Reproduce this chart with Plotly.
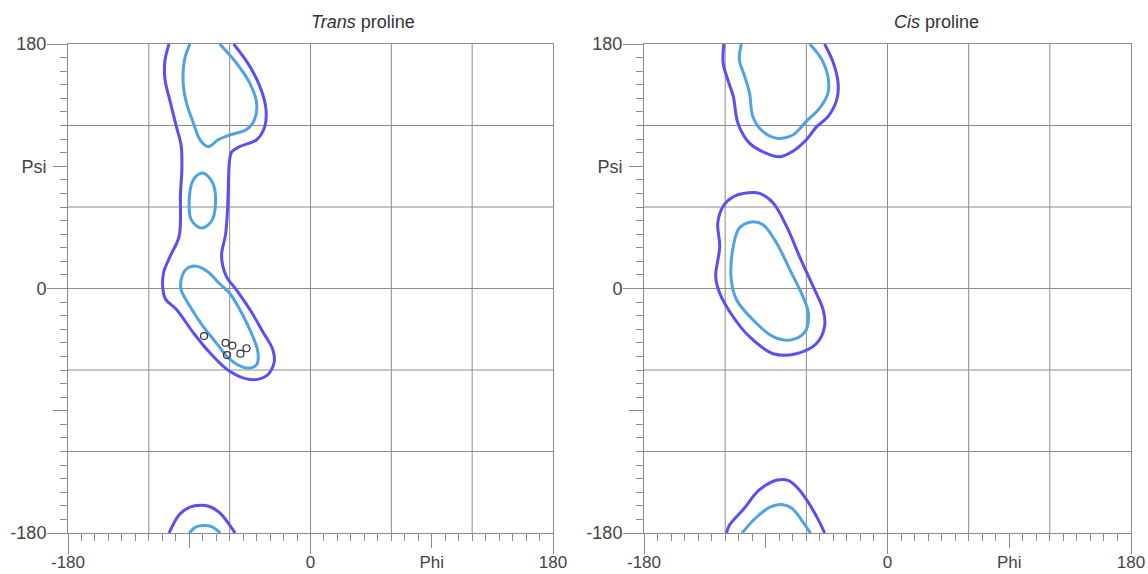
import plotly.graph_objects as go

# ---------------- data (phi, psi in degrees) ----------------
# Trans proline contours
trans_outer_phi = [-105, -108, -108, -104, -99.5, -96, -95.5, -96.5, -97.5, -104, -109, -109.5, -107.5, -99.5, -87,
                   -75, -60, -45, -33, -27, -28, -35, -45, -55, -62.5, -66, -63, -61.5, -60, -58.5, -52.5, -40, -34,
                   -33, -36.5, -45, -57]
trans_outer_psi = [180, 168, 154, 137, 119, 105, 87.5, 70.5, 38.5, 24, 12, -1, -8, -15.5, -32.5,
                   -47, -61, -67, -64.5, -54.5, -45, -32.5, -15.5, -1, 9, 24, 40, 60.5, 95, 100.5, 104.5, 109.5, 119,
                   131.5, 146, 163.5, 180]
trans_outer_bottom_phi = [-105, -97, -89.5, -82, -75, -67.5, -56]
trans_outer_bottom_psi = [-180, -166, -161, -159.5, -160.5, -165, -180]

trans_inner_top_phi = [-89.5, -93.5, -94.5, -92, -87, -82, -76, -68.5, -60, -47.5, -41.5, -40, -45, -55, -67.5]
trans_inner_top_psi = [180, 168.5, 151, 136.5, 122, 109.5, 104.5, 109.5, 113, 117, 124.5, 136.5, 151, 166, 180]
trans_inner_mid_phi = [-80, -72.5, -70.5, -73.5, -81, -88.5, -90, -87, -80]
trans_inner_mid_psi = [85, 77.5, 63, 49.5, 44.5, 50.5, 65.5, 80, 85]
trans_inner_low_phi = [-96, -96, -92.5, -86, -76.5, -67.5, -60, -52.5, -43, -39, -40, -47.5, -60, -70, -80, -89.5, -96]
trans_inner_low_psi = [-1, 6.5, 14, 16.5, 12.5, 3.5, -3.5, -15.5, -35, -47, -56, -58.5, -52, -40, -27.5, -13, -1]
trans_inner_bottom_phi = [-90, -85, -79, -73, -67]
trans_inner_bottom_psi = [-180, -175.5, -174.5, -175.5, -180]

# Observed residues (trans)
trans_pts_phi = [-79, -63, -58, -62, -52, -47.5]
trans_pts_psi = [-35, -40, -42, -49, -48, -44]

# Cis proline contours
cis_outer_top_phi = [-121, -121.5, -118, -114, -110.5, -102, -89.5, -79.5, -70, -60, -52.5, -44, -37.5, -36.5, -40, -46.5]
cis_outer_top_psi = [180, 166, 153.5, 141.5, 121.5, 107, 99.5, 97, 101, 109.5, 119, 126.5, 139, 151, 166, 180]
cis_inner_top_phi = [-108, -109.5, -105.5, -102, -99.5, -92, -81, -70, -60, -50, -44, -44, -48.5, -57.5]
cis_inner_top_psi = [180, 168.5, 156, 144, 126.5, 115.5, 110.5, 113, 123, 133, 144, 156, 168.5, 180]
cis_outer_mid_phi = [-103, -114, -121.5, -125.5, -124, -127, -124, -114, -102, -84.5, -67.5, -52.5, -46.5, -47.5, -55,
                     -65, -74.5, -84.5, -94.5, -103]
cis_outer_mid_psi = [70.5, 67.5, 60.5, 48, 31, 8.5, -3.5, -21, -35.5, -48, -48, -40.5, -28, -16, 1.5,
                     23.5, 45.5, 63, 70, 70.5]
cis_inner_mid_phi = [-100.5, -109.5, -114, -115.5, -111.5, -99.5, -84.5, -72, -61, -58.5, -62.5, -72, -82, -92, -100.5]
cis_inner_mid_psi = [49, 44.5, 31, 6.5, -8.5, -23, -35.5, -38, -32, -18.5, -6, 13.5, 33.5, 47, 49]
cis_outer_bottom_phi = [-119, -117, -106, -95, -81.5, -73, -65, -59.5, -51, -46.5]
cis_outer_bottom_psi = [-180, -174.5, -162, -148.5, -141, -141.5, -148.5, -156, -170.5, -180]
cis_inner_bottom_phi = [-107.5, -98, -87, -78.5, -70.5, -63.5, -57]
cis_inner_bottom_psi = [-180, -169.5, -161, -159, -162, -170.5, -180]

# axis ticks
major_ticks = [-180, -90, 0, 90, 180]
x_ticktext = ["-180", "", "0", "Phi", "180"]
y_ticktext = ["-180", "", "0", "Psi", "180"]
long_ticks = [-180, 0, 180]
grid_vals = [-120, -60, 0, 60, 120]
titles = ["<i>Trans</i> proline", "<i>Cis</i> proline"]

# ---------------- styling ----------------
OUTER = "#5a4ff0"
INNER = "#4fa3e3"
GRID = "#8c8c8c"
TXT = "#444444"
FONT = "Liberation Sans, Arial, sans-serif"
LW = 3

fig = go.Figure()


def add_line(px, py, color, xa, ya):
    fig.add_trace(go.Scatter(x=px, y=py, mode="lines", line=dict(color=color, width=LW, shape="spline", smoothing=1.0),
                             xaxis=xa, yaxis=ya, showlegend=False, hoverinfo="skip"))


# Trans (left)
add_line(trans_outer_phi, trans_outer_psi, OUTER, "x", "y")
add_line(trans_outer_bottom_phi, trans_outer_bottom_psi, OUTER, "x", "y")
add_line(trans_inner_top_phi, trans_inner_top_psi, INNER, "x", "y")
add_line(trans_inner_mid_phi, trans_inner_mid_psi, INNER, "x", "y")
add_line(trans_inner_low_phi, trans_inner_low_psi, INNER, "x", "y")
add_line(trans_inner_bottom_phi, trans_inner_bottom_psi, INNER, "x", "y")
fig.add_trace(go.Scatter(x=trans_pts_phi, y=trans_pts_psi, mode="markers",
                         marker=dict(symbol="circle-open", size=7, color="#333333", line=dict(width=1.2)),
                         xaxis="x", yaxis="y", showlegend=False))

# Cis (right)
add_line(cis_outer_top_phi, cis_outer_top_psi, OUTER, "x2", "y2")
add_line(cis_inner_top_phi, cis_inner_top_psi, INNER, "x2", "y2")
add_line(cis_outer_mid_phi, cis_outer_mid_psi, OUTER, "x2", "y2")
add_line(cis_inner_mid_phi, cis_inner_mid_psi, INNER, "x2", "y2")
add_line(cis_outer_bottom_phi, cis_outer_bottom_psi, OUTER, "x2", "y2")
add_line(cis_inner_bottom_phi, cis_inner_bottom_psi, INNER, "x2", "y2")

# dummy traces for overlay axes (long ticks)
for xa, ya in [("x3", "y3"), ("x4", "y4")]:
    fig.add_trace(go.Scatter(x=[None], y=[None], xaxis=xa, yaxis=ya, showlegend=False, hoverinfo="skip"))


def main_axis(domain, anchor, ticktext, size, standoff):
    return dict(domain=domain, anchor=anchor, range=[-180, 180], showline=True, linecolor=GRID, linewidth=1,
                mirror=True, tickmode="array", tickvals=major_ticks, ticktext=ticktext, ticks="outside",
                ticklen=14, tickcolor=GRID, tickwidth=1, tickfont=dict(size=size, color=TXT, family=FONT),
                ticklabelstandoff=standoff, showgrid=False, zeroline=False, automargin=False,
                minor=dict(ticks="outside", ticklen=7, tickcolor=GRID, tickwidth=1, tickmode="linear",
                           tick0=-180, dtick=10, showgrid=False))


def overlay_axis(over, anchor, side):
    return dict(overlaying=over, anchor=anchor, side=side, range=[-180, 180], tickmode="array", tickvals=long_ticks,
                ticks="outside", ticklen=20, tickcolor=GRID, tickwidth=1, showticklabels=False, showgrid=False,
                zeroline=False, showline=False, automargin=False)


left_dom = [0, 485 / 1063]
right_dom = [576 / 1063, 1]

shapes = []
for xr, yr in [("x", "y"), ("x2", "y2")]:
    for v in grid_vals:
        shapes.append(dict(type="line", xref=xr, yref=yr, x0=v, x1=v, y0=-180, y1=180,
                           line=dict(color=GRID, width=1), layer="below"))
        shapes.append(dict(type="line", xref=xr, yref=yr, x0=-180, x1=180, y0=v, y1=v,
                           line=dict(color=GRID, width=1), layer="below"))

annotations = []
for t, xc in zip(titles, [(363 - 68) / 1063, (936 - 68) / 1063]):
    annotations.append(dict(text=t, x=xc, y=1.045, xref="paper", yref="paper", showarrow=False,
                            xanchor="center", yanchor="middle", font=dict(size=18, color="#333333", family=FONT)))

fig.update_layout(
    width=1148, height=574,
    margin=dict(l=68, r=17, t=44, b=41),
    paper_bgcolor="white", plot_bgcolor="white",
    xaxis=main_axis(left_dom, "y", x_ticktext, 17, 0),
    yaxis=main_axis([0, 1], "x", y_ticktext, 18, 3),
    xaxis2=main_axis(right_dom, "y2", x_ticktext, 17, 0),
    yaxis2=main_axis([0, 1], "x2", y_ticktext, 18, 3),
    xaxis3=overlay_axis("x", "y", "bottom"),
    yaxis3=overlay_axis("y", "x", "left"),
    xaxis4=overlay_axis("x2", "y2", "bottom"),
    yaxis4=overlay_axis("y2", "x2", "left"),
    shapes=shapes,
    annotations=annotations,
    showlegend=False,
    font=dict(family=FONT),
)

fig.write_html("out.html")
